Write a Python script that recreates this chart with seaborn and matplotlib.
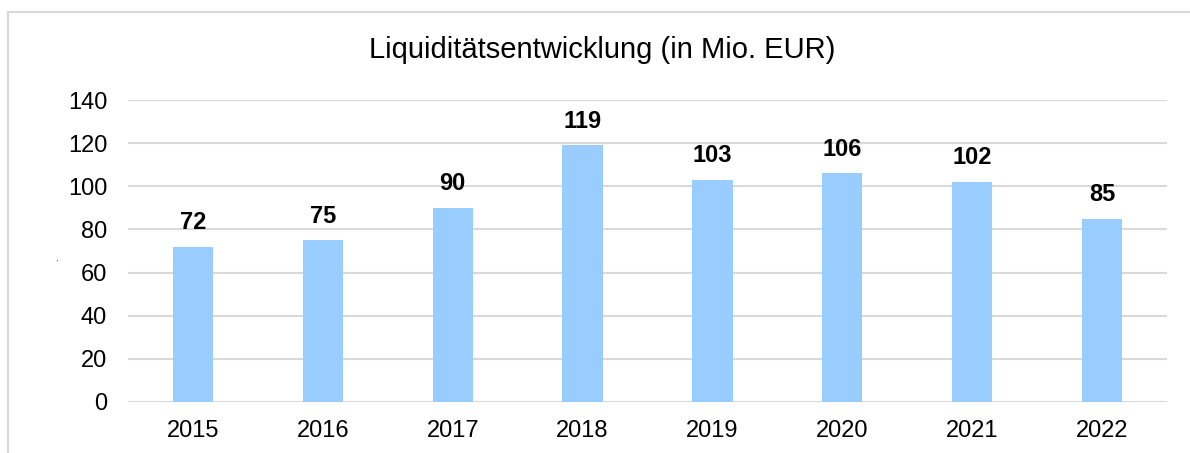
import matplotlib
matplotlib.use("Agg")
import matplotlib.pyplot as plt
import seaborn as sns
import pandas as pd
from matplotlib.lines import Line2D

years = ["2015", "2016", "2017", "2018", "2019", "2020", "2021", "2022"]
liquidity = [72, 75, 90, 119, 103, 106, 102, 85]
yticks = [0, 20, 40, 60, 80, 100, 120, 140]

sns.set_theme(style="white")
plt.rcParams['font.family'] = ['Liberation Sans', 'DejaVu Sans']
plt.rcParams['text.color'] = 'black'

df = pd.DataFrame({"year": years, "value": liquidity})

fig = plt.figure(figsize=(11.9, 4.53), dpi=100)
ax = fig.add_axes([0.1076, 0.1126, 0.8731, 0.6666])

sns.barplot(data=df, x="year", y="value", color="#99CCFF", saturation=1,
            width=0.31, linewidth=0, ax=ax, zorder=3)

ax.set_ylim(0, 140)
ax.set_yticks(yticks)
ax.yaxis.grid(True, color="#D9D9D9", linewidth=1.5, zorder=0)
ax.set_axisbelow(True)
for s in ax.spines.values():
    s.set_visible(False)
ax.tick_params(axis="both", length=0, labelsize=17, colors="black")
ax.tick_params(axis="x", pad=13)
ax.tick_params(axis="y", pad=15)
ax.set_xlabel("")
ax.set_ylabel("")

for i, v in enumerate(liquidity):
    ax.annotate(str(v), (i, v), xytext=(0, 9), textcoords="offset points",
                ha="center", va="bottom", fontsize=17, fontweight="bold",
                color="black")

fig.text(602 / 1190, 1 - 50 / 453, "Liquiditätsentwicklung (in Mio. EUR)",
         ha="center", va="center", fontsize=21, color="black")

# frame lines of the chart area (left and top)
fig.add_artist(Line2D([8 / 1190, 8 / 1190], [0, 1 - 12 / 453],
                      transform=fig.transFigure, color="#D9D9D9", linewidth=1.5))
fig.add_artist(Line2D([8 / 1190, 1], [1 - 12 / 453, 1 - 12 / 453],
                      transform=fig.transFigure, color="#D9D9D9", linewidth=1.5))
fig.text(57 / 1190, 1 - 258 / 453, ".", fontsize=8, ha="center", va="center")

fig.savefig("out.png", dpi=100)
